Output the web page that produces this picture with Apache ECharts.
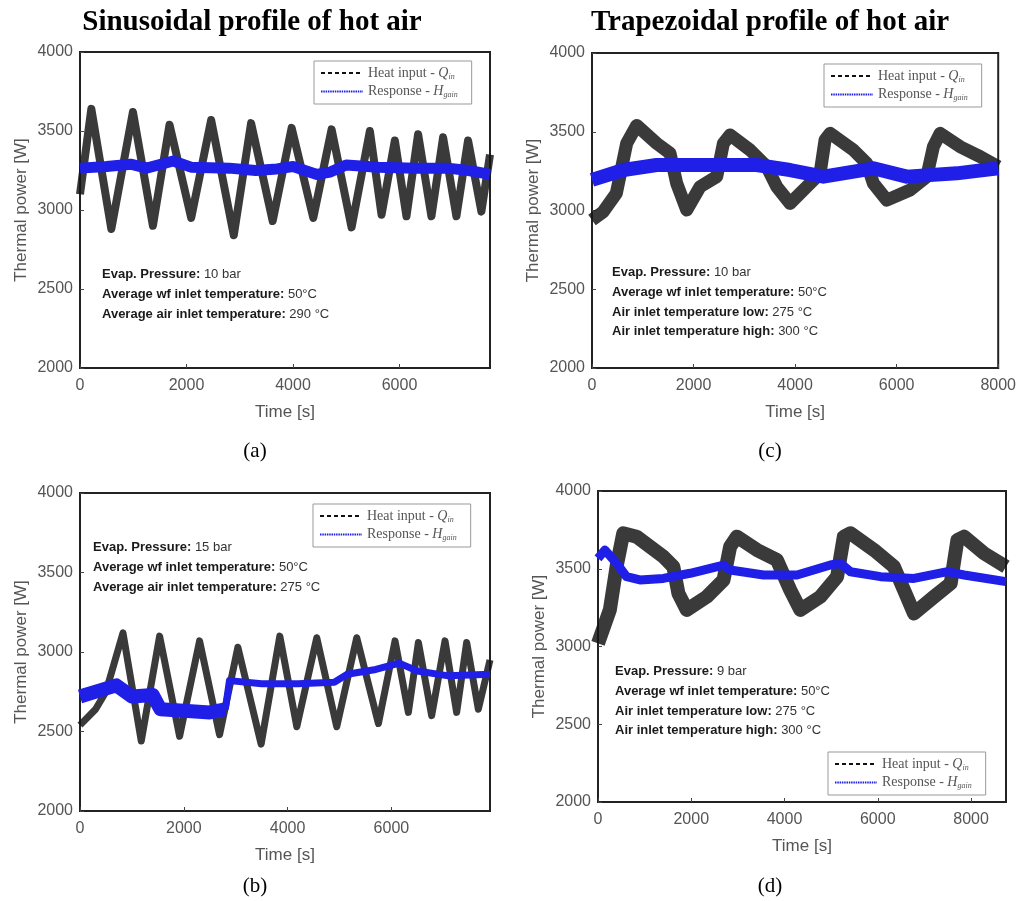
<!DOCTYPE html>
<html><head><meta charset="utf-8">
<script src="https://cdn.jsdelivr.net/npm/echarts@6/dist/echarts.min.js"></script>
<style>html,body{margin:0;padding:0;background:#fff}#c{width:1019px;height:901px}</style>
</head><body><div id="c"></div>
<script>
// ---------- data ----------
// (a) sinusoidal, 10 bar
const tA_q = [0,213,588,994,1369,1681,2088,2463,2888,3213,3619,3975,4381,4725,5100,5444,5663,5913,6131,6350,6600,6819,7069,7288,7538,7700];
const qA   = [3100,3640,2880,3620,2900,3540,2950,3570,2840,3550,2930,3520,2950,3510,2890,3500,2970,3440,2960,3480,2960,3460,2960,3440,2990,3350];
const tA_h = [0,500,950,1250,1750,2100,2800,3300,3700,4000,4450,4700,5000,5600,6300,6900,7300,7700];
const hA   = [3265,3275,3290,3265,3310,3270,3265,3250,3260,3275,3225,3240,3285,3270,3265,3265,3250,3225];
// (b) sinusoidal, 15 bar
const tB_q = [0,300,500,828,1180,1534,1919,2304,2689,3042,3490,3850,4177,4562,4947,5332,5750,6070,6327,6520,6776,7033,7257,7450,7675,7900];
const qB   = [2540,2640,2750,3120,2440,3100,2470,3070,2480,3030,2420,3100,2530,3090,2530,3090,2550,3070,2620,3060,2600,3070,2620,3060,2640,2950];
const tB_h = [0,400,700,1000,1400,1550,2000,2500,2800,2880,3500,4200,4900,5150,5700,6150,6500,7100,7900];
const hB   = [2720,2760,2790,2720,2730,2640,2630,2620,2640,2820,2800,2800,2810,2860,2890,2930,2880,2850,2860];
// (c) trapezoidal, 10 bar
const tC_q = [0,217,480,683,880,1274,1537,1668,1865,2128,2456,2587,2719,3113,3441,3638,3901,4229,4492,4590,4689,5148,5411,5542,5806,6265,6593,6724,6856,7250,7644,8000];
const qC   = [2940,2990,3110,3426,3540,3426,3363,3172,3003,3151,3215,3426,3480,3384,3278,3151,3045,3151,3236,3448,3490,3384,3299,3172,3066,3130,3215,3405,3490,3405,3342,3278];
const tC_h = [0,617,1274,3245,3901,4558,5542,6199,7184,8000];
const hC   = [3194,3257,3289,3289,3257,3215,3268,3215,3236,3268];
// (d) trapezoidal, 9 bar
const tD_q = [0,254,398,541,828,1114,1401,1616,1724,1903,2333,2692,2834,2978,3408,3838,4124,4339,4769,5128,5272,5414,5917,6347,6562,6777,7207,7564,7708,7851,8281,8750];
const qD   = [3020,3235,3513,3728,3706,3642,3578,3513,3342,3235,3320,3428,3642,3706,3621,3556,3363,3235,3320,3449,3706,3728,3621,3513,3363,3213,3320,3406,3685,3706,3599,3513];
const tD_h = [0,147,398,613,900,1401,1975,2692,2834,3551,4268,4984,5199,5414,6059,6776,7493,7851,8750];
const hD   = [3567,3620,3535,3449,3428,3438,3471,3524,3492,3460,3460,3524,3535,3481,3449,3438,3481,3460,3417];

const xMax = [7700, 7900, 8000, 8750];
const xTicksShowMax = [false, false, true, false];
const titles = ['Sinusoidal profile of hot air', 'Trapezoidal profile of hot air'];
const subLabels = ['(a)', '(b)', '(c)', '(d)'];
const notes = [
  [['Evap. Pressure:', ' 10 bar'], ['Average wf inlet temperature:', ' 50°C'], ['Average air inlet temperature:', ' 290 °C']],
  [['Evap. Pressure:', ' 15 bar'], ['Average wf inlet temperature:', ' 50°C'], ['Average air inlet temperature:', ' 275 °C']],
  [['Evap. Pressure:', ' 10 bar'], ['Average wf inlet temperature:', ' 50°C'], ['Air inlet temperature low:', ' 275 °C'], ['Air inlet temperature high:', ' 300 °C']],
  [['Evap. Pressure:', ' 9 bar'], ['Average wf inlet temperature:', ' 50°C'], ['Air inlet temperature low:', ' 275 °C'], ['Air inlet temperature high:', ' 300 °C']]
];
const QNAME = 'Heat input - Qin', HNAME = 'Response - Hgain';

// ---------- layout / style ----------
const grids = [
  {left: 80, top: 52, width: 410, height: 316},
  {left: 80, top: 493, width: 410, height: 318},
  {left: 592, top: 53, width: 408, height: 315},
  {left: 598, top: 491, width: 408, height: 311}
];
const legendPos = [{left: 314, top: 61}, {left: 313, top: 504}, {left: 824, top: 64}, {left: 828, top: 752}];
const notePos = [{x: 102, y: 265}, {x: 93, y: 538}, {x: 612, y: 263}, {x: 615, y: 662}];

const BLACK = 'rgba(20,20,20,0.84)';
const BLUE = '#1f1fe8';
const SANS = '"Liberation Sans", Arial, sans-serif';
const SERIF = '"Liberation Serif", "Times New Roman", serif';

function trace(idx, t, v, color, width, z) {
  return {
    type: 'line', xAxisIndex: idx, yAxisIndex: idx, z: z, silent: true, symbol: 'none',
    data: t.map((x, i) => [x, v[i]]),
    lineStyle: {color: color, width: width, join: 'round', cap: 'butt'}
  };
}

const xAxes = [], yAxes = [], series = [], legends = [], graphics = [];
for (let i = 0; i < 4; i++) {
  xAxes.push({
    type: 'value', gridIndex: i, min: 0, max: xMax[i], interval: 2000,
    name: 'Time [s]', nameLocation: 'middle', nameGap: 36,
    nameTextStyle: {color: '#555', fontSize: 17, fontFamily: SANS},
    axisLine: {show: true, lineStyle: {color: '#222', width: 2}},
    axisTick: {show: true, inside: true, length: 4, lineStyle: {color: '#444'}},
    axisLabel: {color: '#555', fontSize: 16, fontFamily: SANS, margin: 10, showMaxLabel: xTicksShowMax[i],
                formatter: v => String(v)},
    splitLine: {show: false}
  });
  yAxes.push({
    type: 'value', gridIndex: i, min: 2000, max: 4000, interval: 500,
    name: 'Thermal power [W]', nameLocation: 'middle', nameGap: 50,
    nameTextStyle: {color: '#555', fontSize: 17, fontFamily: SANS},
    axisLine: {show: true, lineStyle: {color: '#222', width: 2}},
    axisTick: {show: true, inside: true, length: 4, lineStyle: {color: '#444'}},
    axisLabel: {color: '#555', fontSize: 16, fontFamily: SANS, margin: 7, formatter: v => String(v)},
    splitLine: {show: false}
  });
  legends.push({
    orient: 'vertical', left: legendPos[i].left, top: legendPos[i].top,
    data: [QNAME, HNAME], itemWidth: 42, itemHeight: 12, itemGap: 4,
    padding: [5, 14, 5, 6], borderColor: '#999', borderWidth: 1, backgroundColor: '#fff',
    selectedMode: false,
    itemStyle: {color: 'rgba(0,0,0,0)', borderWidth: 0, opacity: 0},
    formatter: n => n === QNAME ? '{n|Heat input - }{i|Q}{s|in}' : '{n|Response - }{i|H}{s|gain}',
    textStyle: {
      rich: {
        n: {fontFamily: SERIF, fontSize: 14, color: '#555'},
        i: {fontFamily: SERIF, fontSize: 14, fontStyle: 'italic', color: '#555'},
        s: {fontFamily: SERIF, fontSize: 8, fontStyle: 'italic', color: '#555', padding: [7, 0, 0, 0]}
      }
    }
  });
  const lines = notes[i].map(p => '{b|' + p[0] + '}{n|' + p[1] + '}').join('\n');
  graphics.push({
    type: 'text', x: notePos[i].x, y: notePos[i].y, z: 100,
    style: {
      text: lines, lineHeight: 19.6,
      rich: {
        b: {fontFamily: SANS, fontWeight: 'bold', fontSize: 13, fill: '#1a1a1a', lineHeight: 19.6},
        n: {fontFamily: SANS, fontSize: 13, fill: '#333', lineHeight: 19.6}
      }
    }
  });
}

// traces
series.push(trace(0, tA_q, qA, BLACK, 8, 2));
series.push(trace(0, tA_h, hA, BLUE, 11, 3));
series.push(trace(1, tB_q, qB, BLACK, 7, 2));
series.push(trace(1, tB_h.slice(0, 9), hB.slice(0, 9), BLUE, 14, 3));
series.push(trace(1, tB_h.slice(8), hB.slice(8), BLUE, 7, 3));
series.push(trace(2, tC_q, qC, BLACK, 13, 2));
series.push(trace(2, tC_h, hC, BLUE, 14, 3));
series.push(trace(3, tD_q, qD, BLACK, 14, 2));
series.push(trace(3, tD_h, hD, BLUE, 9, 3));

// legend entries
series.push({name: QNAME, type: 'line', xAxisIndex: 0, yAxisIndex: 0, data: [], symbol: 'none',
  lineStyle: {color: '#111', width: 1.2, type: [4, 3]}, itemStyle: {color: '#111'}});
series.push({name: HNAME, type: 'line', xAxisIndex: 0, yAxisIndex: 0, data: [], symbol: 'none',
  lineStyle: {color: BLUE, width: 1.5, type: [1.5, 0.8]}, itemStyle: {color: BLUE}});

graphics.push({type: 'text', x: 252, y: 23, style: {text: titles[0], font: 'bold 29px ' + SERIF, fill: '#000', align: 'center', verticalAlign: 'middle'}});
graphics.push({type: 'text', x: 770, y: 23, style: {text: titles[1], font: 'bold 29px ' + SERIF, fill: '#000', align: 'center', verticalAlign: 'middle'}});
const subPos = [[255, 451], [255, 886], [770, 451], [770, 886]];
subLabels.forEach((s, i) => graphics.push({type: 'text', x: subPos[i][0], y: subPos[i][1],
  style: {text: s, font: '21px ' + SERIF, fill: '#000', align: 'center', verticalAlign: 'middle'}}));

const chart = echarts.init(document.getElementById('c'));
chart.setOption({
  animation: false,
  backgroundColor: '#fff',
  grid: grids.map(g => Object.assign({show: true, borderColor: '#222', borderWidth: 2, backgroundColor: 'transparent'}, g)),
  xAxis: xAxes, yAxis: yAxes,
  legend: legends,
  series: series,
  graphic: graphics
});
</script></body></html>
